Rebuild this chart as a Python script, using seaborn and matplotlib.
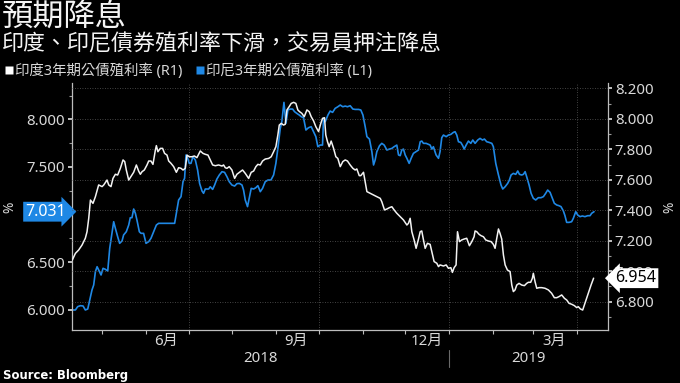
import numpy as np
import pandas as pd
import matplotlib
matplotlib.use("Agg")
import matplotlib.pyplot as plt
import matplotlib.transforms as mtrans
from matplotlib.lines import Line2D
from matplotlib.ticker import FixedLocator, MultipleLocator
import seaborn as sns

sns.set_theme(style="dark")
plt.rcParams['font.family'] = ['Noto Sans', 'Noto Sans CJK TC', 'DejaVu Sans']

# ---------------- data (days since 2018-05-01, yields in %) ----------------
base_date = "2018-05-01"

india_days = [-21.0, -18.8, -16.5, -14.1, -11.8, -10.6, -9.4, -8.2, -6.4, -4.7,
              -2.4, 0.0, 1.2, 3.5, 4.7, 6.3, 7.7, 9.4, 11.0, 12.9,
              14.8, 16.0, 17.1, 18.8, 19.9, 22.3, 24.2, 25.8, 27.0, 28.2,
              29.8, 31.7, 32.9, 34.5, 35.9, 37.6, 38.3, 39.4, 41.1, 42.7,
              44.1, 45.8, 47.0, 48.6, 50.5, 52.4, 54.0, 55.7, 57.1, 58.7,
              59.9, 61.5, 63.4, 65.1, 66.9, 69.3, 71.2,
              72.8, 74.7, 76.3, 78.0, 79.9, 82.2, 84.6, 85.7, 86.9, 88.1,
              89.7, 91.6, 93.5, 95.1, 97.5, 99.1, 101.0, 103.4, 105.2, 106.9,
              108.5, 109.9, 111.6, 113.2, 115.1, 117.5, 119.3, 121.0, 122.6, 124.0,
              125.0, 126.4, 128.0, 129.2, 130.4, 132.0, 133.4, 135.1, 136.7, 138.1,
              139.3, 140.9, 142.6, 144.5, 146.1, 147.5, 149.2, 150.8, 152.7, 154.3,
              155.5, 156.9, 157.8, 159.0, 160.2, 161.6, 163.3, 164.9, 166.3,
              168.0, 169.8, 171.5, 173.1, 175.0, 176.9, 178.5, 179.7, 181.4, 182.5,
              184.4, 185.6, 186.8, 189.1, 191.5, 193.8, 196.2, 197.3, 199.2, 200.9,
              202.7, 204.4, 206.0, 207.9, 210.2, 212.6, 215.0, 216.1, 217.3, 218.5,
              220.1, 221.5, 223.2, 224.4, 225.5, 226.7, 227.9, 229.5, 231.4, 232.6,
              234.2, 236.1, 237.3, 238.4, 240.8, 242.7, 244.3, 246.0, 247.1, 248.3,
              249.7, 250.7, 252.1, 253.7, 255.4, 257.2, 259.1, 260.8, 262.4,
              263.1, 264.3, 265.9, 267.3, 269.0, 270.6, 272.5, 274.4, 276.0, 277.2,
              278.4, 279.6, 280.7, 281.9, 283.1, 284.3, 285.9, 287.8, 289.0, 290.1,
              291.3, 292.5, 294.1, 296.0, 297.9, 299.5, 300.7, 302.3, 303.5, 304.2,
              305.4, 306.6, 308.2, 310.1, 312.4, 314.8, 317.1, 319.0, 320.7, 322.3,
              324.2, 326.1, 327.7, 329.4, 331.2, 333.1, 334.8, 335.9, 337.4, 339.0,
              340.6, 343.0, 344.9, 346.7]

india_yield = [7.073, 7.117, 7.139, 7.172, 7.216, 7.259, 7.347, 7.467, 7.445, 7.489,
               7.566, 7.555, 7.566, 7.598, 7.566, 7.555, 7.609, 7.636, 7.631, 7.675,
               7.730, 7.719, 7.664, 7.598, 7.614, 7.649, 7.697, 7.657, 7.636, 7.653,
               7.664, 7.697, 7.723, 7.723, 7.701, 7.795, 7.824, 7.784, 7.806, 7.806,
               7.773, 7.762, 7.723, 7.708, 7.686, 7.649, 7.679, 7.675, 7.664, 7.675,
               7.762, 7.751, 7.751, 7.756, 7.745, 7.789, 7.773,
               7.767, 7.762, 7.730, 7.697, 7.692, 7.697, 7.690, 7.697, 7.679, 7.675,
               7.686, 7.664, 7.609, 7.636, 7.653, 7.664, 7.642, 7.609, 7.649, 7.657,
               7.686, 7.701, 7.697, 7.723, 7.736, 7.740, 7.751, 7.784, 7.817, 7.894,
               7.959, 7.970, 7.959, 7.964, 8.058, 8.080, 8.101, 8.108, 8.101, 8.058,
               8.047, 8.036, 8.014, 8.058, 8.047, 8.014, 7.986, 7.948, 7.916, 7.970,
               8.003, 8.007, 7.894, 7.850, 7.817, 7.854, 7.806, 7.751, 7.740,
               7.686, 7.719, 7.730, 7.723, 7.697, 7.675, 7.664, 7.671, 7.627, 7.627,
               7.649, 7.587, 7.522, 7.511, 7.500, 7.489, 7.478, 7.456, 7.402, 7.408,
               7.417, 7.423, 7.402, 7.380, 7.358, 7.336, 7.303, 7.314, 7.347, 7.259,
               7.205, 7.150, 7.211, 7.259, 7.264, 7.205, 7.150, 7.183, 7.176, 7.128,
               7.063, 7.052, 7.030, 7.041, 7.034, 7.041, 7.019, 7.023, 6.992, 7.023,
               7.041, 7.259, 7.194, 7.205, 7.211, 7.216, 7.167, 7.194, 7.226,
               7.264, 7.259, 7.242, 7.233, 7.226, 7.205, 7.198, 7.194, 7.176, 7.150,
               7.216, 7.277, 7.248, 7.211, 7.106, 7.041, 7.008, 6.997, 6.909, 6.866,
               6.877, 6.909, 6.920, 6.909, 6.905, 6.920, 6.927, 6.927, 6.953, 6.986,
               6.931, 6.888, 6.892, 6.892, 6.888, 6.877, 6.855, 6.826, 6.826, 6.833,
               6.844, 6.822, 6.811, 6.789, 6.783, 6.774, 6.761, 6.767, 6.752, 6.745,
               6.789, 6.855, 6.909, 6.954]

indo_days = [-21.0, -18.8, -17.2, -15.3, -13.4, -11.8, -10.1, -8.7, -7.1, -5.9,
             -4.7, -3.5, -2.4, -0.7, 0.7, 2.3, 4.0, 5.4, 7.0, 8.2,
             9.4, 11.0, 12.4, 14.1, 15.2, 17.1, 18.8, 19.9, 21.1, 22.3,
             23.5, 24.6, 26.3, 27.5, 29.3, 31.0, 32.9, 34.5, 36.4, 38.3,
             39.9, 48.1, 51.2, 52.4, 54.0, 55.7, 57.1, 58.2, 59.2, 60.4,
             61.5, 62.7, 64.1, 65.8, 67.4, 68.8, 70.5, 71.6,
             72.8, 75.2, 76.3, 78.0, 79.4, 81.0, 82.7, 84.6, 86.4, 88.1,
             89.7, 91.6, 93.5, 95.1, 96.8, 98.7, 99.8, 101.0, 102.6, 103.8,
             105.2, 106.9, 108.5, 109.9, 111.6, 113.2, 115.1, 117.0, 119.1, 121.0,
             122.6, 124.0, 125.7, 126.8, 128.3, 129.7, 131.1, 132.7, 134.4, 135.8,
             137.4, 139.1, 140.5, 142.1, 143.8, 145.6, 147.5, 149.2, 150.8, 152.2,
             153.9, 155.5, 156.2, 157.4, 159.3, 160.9, 162.6, 164.4, 166.3,
             168.0, 169.8, 171.5, 173.1, 175.0, 176.9, 178.5, 180.9, 182.5, 184.0,
             185.6, 186.8, 188.6, 190.3, 191.5, 192.6, 193.8, 195.7, 197.3, 199.0,
             200.9, 202.7, 204.4, 206.0, 207.9, 209.1, 210.3, 211.4, 212.6, 213.8,
             215.0, 216.6, 218.0, 219.6, 221.5, 223.2, 224.4, 225.5, 226.7, 228.6,
             230.2, 231.4, 232.6, 233.7, 235.6, 237.3, 238.4, 239.6, 240.8, 242.7,
             244.3, 246.0, 247.8, 249.0, 250.2, 251.4, 253.0, 254.4, 255.4, 256.8,
             258.4, 260.1, 261.5,
             263.1, 265.0, 266.6, 268.3, 269.7, 271.3, 273.0, 274.9, 276.0, 277.7,
             279.6, 281.4, 282.6, 284.3, 286.1, 287.3, 288.5, 290.1, 291.8, 293.2,
             294.4, 296.0, 297.2, 298.4, 299.5, 301.2, 302.6, 304.2, 305.9, 307.7,
             309.6, 311.3, 312.9, 314.3, 316.0, 317.6, 319.0, 320.7, 322.3, 323.7,
             325.4, 326.5, 327.7, 329.4, 331.2, 332.4, 334.1, 335.5, 337.1, 338.8,
             340.6, 342.5, 344.2, 345.3, 347.0]

indo_yield = [6.000, 6.000, 6.035, 6.045, 6.042, 6.000, 6.010, 6.105, 6.210, 6.262,
              6.402, 6.454, 6.420, 6.367, 6.437, 6.427, 6.409, 6.647, 6.804, 6.926,
              6.856, 6.769, 6.699, 6.724, 6.787, 6.821, 6.891, 6.968, 6.968, 7.059,
              7.014, 6.944, 6.821, 6.804, 6.804, 6.699, 6.717, 6.752, 6.821, 6.891,
              6.909, 6.909, 6.909, 7.014, 7.154, 7.189, 7.346, 7.381, 7.626, 7.591,
              7.538, 7.538, 7.608, 7.573, 7.468, 7.328, 7.248, 7.224,
              7.269, 7.269, 7.293, 7.265, 7.311, 7.374, 7.416, 7.451, 7.444, 7.398,
              7.346, 7.311, 7.300, 7.325, 7.328, 7.311, 7.258, 7.154, 7.084, 7.171,
              7.276, 7.269, 7.283, 7.304, 7.241, 7.276, 7.346, 7.363, 7.363, 7.416,
              7.538, 7.695, 7.905, 7.975, 8.178, 7.958, 8.098, 8.108, 8.108, 8.080,
              8.062, 8.045, 8.028, 8.017, 7.888, 7.912, 7.923, 7.870, 7.818, 7.713,
              7.730, 7.730, 8.010, 7.975, 8.045, 8.087, 8.073, 8.115, 8.132,
              8.150, 8.132, 8.139, 8.132, 8.143, 8.108, 8.104, 8.104, 8.098, 8.045,
              7.923, 7.818, 7.793, 7.661, 7.521, 7.573, 7.661, 7.723, 7.748, 7.730,
              7.678, 7.688, 7.695, 7.713, 7.730, 7.626, 7.619, 7.678, 7.688, 7.626,
              7.591, 7.538, 7.591, 7.643, 7.661, 7.678, 7.765, 7.772, 7.748, 7.748,
              7.737, 7.730, 7.688, 7.713, 7.626, 7.591, 7.661, 7.807, 7.835, 7.818,
              7.835, 7.842, 7.863, 7.870, 7.835, 7.765, 7.758, 7.723, 7.688, 7.730,
              7.772, 7.748, 7.783,
              7.748, 7.783, 7.800, 7.783, 7.793, 7.765, 7.758, 7.748, 7.713, 7.538,
              7.416, 7.311, 7.269, 7.293, 7.328, 7.363, 7.416, 7.433, 7.423, 7.458,
              7.423, 7.416, 7.423, 7.451, 7.398, 7.311, 7.224, 7.171, 7.154, 7.178,
              7.178, 7.189, 7.224, 7.258, 7.234, 7.171, 7.119, 7.101, 7.094, 7.084,
              7.038, 6.989, 6.919, 6.919, 6.926, 6.961, 7.031, 6.996, 6.979, 6.986,
              6.979, 6.989, 6.989, 7.014, 7.031]

india_name = "印度3年期公債殖利率 (R1)"
indo_name = "印尼3年期公債殖利率 (L1)"
india_last = "6.954"
indo_last = "7.031"
month_labels = ["6月", "9月", "12月", "3月"]
year_labels = ["2018", "2019"]
title = "預期降息"
subtitle = "印度、印尼債券殖利率下滑，交易員押注降息"
source = "Source: Bloomberg"

# ---------------- build ----------------
base = pd.Timestamp(base_date)
india_dates = base + pd.to_timedelta(np.array(india_days), unit="D")
indo_dates = base + pd.to_timedelta(np.array(indo_days), unit="D")

BG = "black"
BLUE = "#1f88e5"
WHITE = "#f2f2f2"
TXT = "#d9d9d9"
GRID = "#5a5a5a"

fig = plt.figure(figsize=(6.8, 3.83), dpi=100, facecolor=BG)
ax = fig.add_axes([0.1063, 0.1384, 0.894 - 0.1063, 0.7825 - 0.1384])
ax.set_facecolor(BG)
ax2 = ax.twinx()
ax2.patch.set_visible(False)

sns.lineplot(x=indo_dates, y=indo_yield, ax=ax, color=BLUE, lw=1.2, estimator=None)
sns.lineplot(x=india_dates, y=india_yield, ax=ax2, color=WHITE, lw=1.1, estimator=None)

x0 = base + pd.Timedelta(days=-21.0)
x1 = base + pd.Timedelta(days=356.8)
ax.set_xlim(x0, x1)
ax.set_ylim(5.79, 8.378)
ax2.set_ylim(6.614, 8.233)

# y axes
lt = [6.0, 6.5, 7.0, 7.5, 8.0]
ax.yaxis.set_major_locator(FixedLocator(lt))
ax.set_yticklabels(["" if v == 7.0 else f"{v:.3f}" for v in lt])
ax.yaxis.set_minor_locator(MultipleLocator(0.25))
rt = [6.8, 7.0, 7.2, 7.4, 7.6, 7.8, 8.0, 8.2]
ax2.yaxis.set_major_locator(FixedLocator(rt))
ax2.set_yticklabels([f"{v:.3f}" for v in rt])
ax2.yaxis.set_minor_locator(MultipleLocator(0.1))
for a, side in ((ax, "left"), (ax2, "right")):
    a.tick_params(axis="y", which="major", direction="out", length=3, width=1.3,
                  color="#cfcfcf", labelcolor=TXT, labelsize=10.8, pad=2,
                  left=(side == "left"), right=(side == "right"))
    a.tick_params(axis="y", which="minor", direction="out", length=2.5, width=0.8,
                  color="#9a9a9a", left=(side == "left"), right=(side == "right"))
    a.set_ylabel("")
    a.set_xlabel("")
    for s in a.spines.values():
        s.set_visible(False)

# spines
ax.spines["left"].set_visible(True)
ax.spines["bottom"].set_visible(True)
ax2.spines["right"].set_visible(True)
for s in (ax.spines["left"], ax.spines["bottom"], ax2.spines["right"]):
    s.set_color("#bdbdbd")
    s.set_linewidth(0.9)

# x axis: month ticks, quarter labels at mid-month
month_starts = pd.date_range("2018-05-01", "2019-04-01", freq="MS")
ax.set_xticks(month_starts)
ax.set_xticklabels([""] * len(month_starts))
mids = pd.to_datetime(["2018-06-15", "2018-09-15", "2018-12-16", "2019-03-16"])
ax.set_xticks(mids, minor=True)
ax.set_xticklabels(month_labels, minor=True)
ax.tick_params(axis="x", which="major", direction="out", length=3, width=0.8,
               color="#bdbdbd", bottom=True)
ax.tick_params(axis="x", which="minor", length=0, labelsize=10.8, labelcolor=TXT, pad=3)

# grid
ax2.grid(True, axis="y", color=GRID, lw=0.6, ls=(0, (1, 2)))
ax.grid(False)
for q in pd.to_datetime(["2018-07-01", "2018-10-01", "2019-01-01", "2019-04-01"]):
    ax.axvline(q, color=GRID, lw=0.6, ls=(0, (1, 2)), zorder=0.5)

# years
bt = mtrans.blended_transform_factory(ax.transData, ax.transAxes)
jan1 = pd.Timestamp("2019-01-01")
ax.text(x0 + (jan1 - x0) / 2, -0.114, year_labels[0], transform=bt, ha="center",
        va="center", color=TXT, fontsize=10.8)
ax.text(jan1 + (x1 - jan1) / 2, -0.114, year_labels[1], transform=bt, ha="center",
        va="center", color=TXT, fontsize=10.8)
ax.plot([jan1, jan1], [-0.08, -0.15], transform=bt, color="#6a6a6a", lw=0.8, clip_on=False)

# last value labels
btl = mtrans.blended_transform_factory(ax.transAxes, ax.transData)
ax.text(-0.012, indo_yield[-1], indo_last, transform=btl, ha="right", va="center",
        color="white", fontsize=11.5, zorder=10, clip_on=False,
        bbox=dict(boxstyle="rarrow,pad=0.12", fc=BLUE, ec="none"))
btr = mtrans.blended_transform_factory(ax2.transAxes, ax2.transData)
ax2.text(1.014, india_yield[-1], india_last, transform=btr, ha="left", va="center",
         color="black", fontsize=11.5, zorder=10, clip_on=False,
         bbox=dict(boxstyle="larrow,pad=0.12", fc="white", ec="none"))

# % labels
fig.text(10 / 680, 1 - 207 / 383, "%", rotation=90, ha="center", va="center",
         color=TXT, fontsize=10)
fig.text(670 / 680, 1 - 207 / 383, "%", rotation=90, ha="center", va="center",
         color=TXT, fontsize=10)

# titles
fig.text(0.003, 1 - 18 / 383, title, ha="left", va="center", color="#f4f4f4",
         fontsize=22.5)
fig.text(0.003, 1 - 45 / 383, subtitle, ha="left", va="center", color="#f4f4f4",
         fontsize=15.8)

# legend
handles = [Line2D([], [], ls="none", marker="s", ms=6, mfc="white", mec="none"),
           Line2D([], [], ls="none", marker="s", ms=6, mfc=BLUE, mec="none")]
leg = fig.legend(handles, [india_name, indo_name], loc="center left",
                 bbox_to_anchor=(-0.002, 1 - 71 / 383), ncol=2, frameon=False,
                 handlelength=0.6, handletextpad=0.15, columnspacing=0.9,
                 fontsize=10.4, labelcolor=TXT, borderaxespad=0)

fig.text(0.004, 1 - 376 / 383, source, ha="left", va="center", color="white",
         fontsize=8.4, fontweight="bold", family=["DejaVu Sans"])

fig.savefig("out.png", dpi=100, facecolor=BG)
